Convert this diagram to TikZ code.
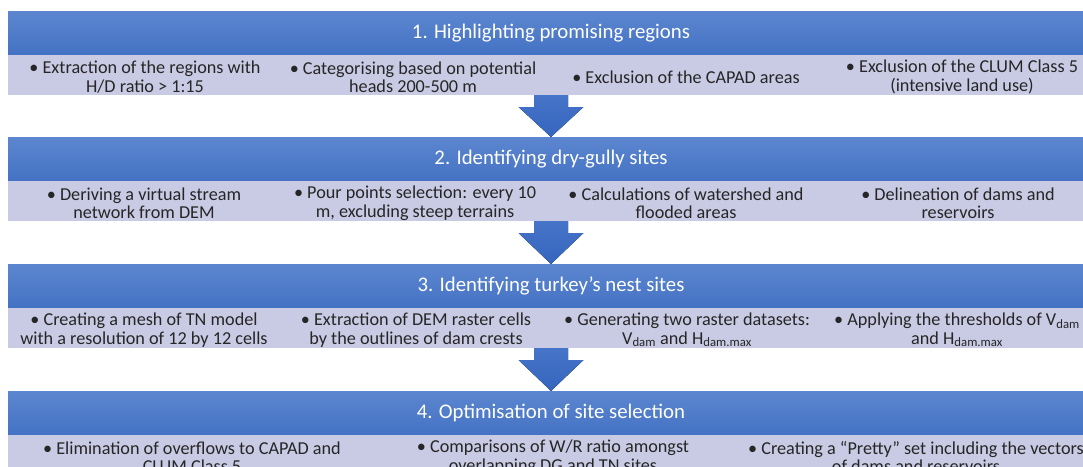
\documentclass[tikz,border=0pt]{standalone}
\usepackage{fontspec}
\setmainfont{Carlito}
\usetikzlibrary{calc}
\definecolor{hdtop}{HTML}{5C86CF}
\definecolor{hdbot}{HTML}{4472C4}
\definecolor{strip}{HTML}{C9CAE4}
\definecolor{arrtop}{HTML}{4674C8}
\definecolor{arrbot}{HTML}{3565BE}
\definecolor{txt}{HTML}{262626}
\tikzset{
  headbar/.style={minimum width=1086pt, minimum height=44pt, inner sep=0pt, outer sep=0pt,
    top color=hdtop, bottom color=hdbot, text=white, font=\fontsize{20.8}{22}\selectfont},
  stripbar/.style={minimum width=1086pt, minimum height=40pt, inner sep=0pt, outer sep=0pt, fill=strip},
  item/.style={align=center, inner sep=0pt, text=txt, font=\fontsize{18.2}{18.5}\selectfont},
  bigarrow/.style={top color=arrtop, bottom color=arrbot, draw=none}
}
\begin{document}
\begin{tikzpicture}[x=1pt,y=-1pt]
\useasboundingbox (0,0) rectangle (1083,466);
\fill[white] (0,0) rectangle (1083,466);

% Bar 1
\node[headbar] (h1) at (551,33) {1. Highlighting promising regions};
\node[stripbar, anchor=north] (s1) at (h1.south) {};
\node[item] (a1) at (145,77) {• Extraction of the regions with\\H/D ratio > 1:15};
\node[item] (a2) at (413,77) {• Categorising based on potential\\heads 200-500 m};
\node[item] (a3) at (686,77) {• Exclusion of the CAPAD areas};
\node[item] (a4) at (962,77) {• Exclusion of the CLUM Class 5\\(intensive land use)};

% Bar 2
\node[headbar] (h2) at (551,159) {2. Identifying dry-gully sites};
\node[stripbar, anchor=north] (s2) at (h2.south) {};
\node[item] (b1) at (144,203) {• Deriving a virtual stream\\network from DEM};
\node[item] (b2) at (415,203) {• Pour points selection: every 10\\m, excluding steep terrains};
\node[item] (b3) at (686,203) {• Calculations of watershed and\\flooded areas};
\node[item] (b4) at (958,203) {• Delineation of dams and\\reservoirs};

% Bar 3
\node[headbar] (h3) at (551,286) {3. Identifying turkey’s nest sites};
\node[stripbar, anchor=north] (s3) at (h3.south) {};
\node[item] (c1) at (144,330) {• Creating a mesh of TN model\\with a resolution of 12 by 12 cells};
\node[item] (c2) at (416,330) {• Extraction of DEM raster cells\\by the outlines of dam crests};
\node[item] (c3) at (687,330) {• Generating two raster datasets:\\V\textsubscript{dam} and H\textsubscript{dam.max}};
\node[item] (c4) at (957,330) {• Applying the thresholds of V\textsubscript{dam}\\and H\textsubscript{dam.max}};

% Bar 4
\node[headbar] (h4) at (551,413) {4. Optimisation of site selection};
\node[stripbar, anchor=north] (s4) at (h4.south) {};
\node[item] (d1) at (192,457) {• Elimination of overflows to CAPAD and\\CLUM Class 5};
\node[item] (d2) at (553,457) {• Comparisons of W/R ratio amongst\\overlapping DG and TN sites};
\node[item] (d3) at (916,457) {• Creating a “Pretty” set including the vectors\\of dams and reservoirs};

% Arrows
\foreach \s/\h in {s1/h2, s2/h3, s3/h4}{
  \fill[bigarrow] ($(\s.south)+(-17,0)$) -- ($(\s.south)+(17,0)$) -- ($(\s.south)+(17,12)$)
    -- ($(\s.south)+(32.5,12)$) -- (\h.north) -- ($(\s.south)+(-32.5,12)$) -- ($(\s.south)+(-17,12)$) -- cycle;
}
\end{tikzpicture}
\end{document}
